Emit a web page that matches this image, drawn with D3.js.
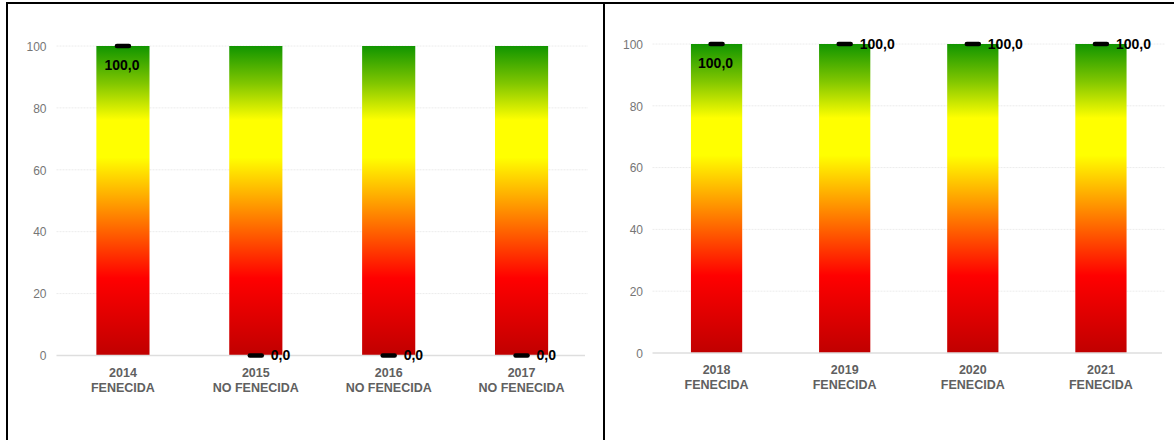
<!DOCTYPE html>
<html>
<head>
<meta charset="utf-8">
<script src="https://cdn.jsdelivr.net/npm/d3@7"></script>
<style>
  html, body { margin: 0; padding: 0; background: #fff; }
  svg { display: block; font-family: "Liberation Sans", Arial, sans-serif; }
</style>
</head>
<body>
<svg id="chart" width="1174" height="440"></svg>
<script>
// Accounts by year: fenecida status and compliance score (0–100)
const leftYears = ["2014", "2015", "2016", "2017"];
const leftStatus = ["FENECIDA", "NO FENECIDA", "NO FENECIDA", "NO FENECIDA"];
const leftValues = [100, 0, 0, 0];

const rightYears = ["2018", "2019", "2020", "2021"];
const rightStatus = ["FENECIDA", "FENECIDA", "FENECIDA", "FENECIDA"];
const rightValues = [100, 100, 100, 100];

const yTicks = [0, 20, 40, 60, 80, 100];
const scaleMax = 100;

const svg = d3.select("#chart");

// Shared vertical colour ramp for the gauge bars (green at the top, dark red at the bottom)
const defs = svg.append("defs");
const grad = defs.append("linearGradient")
  .attr("id", "ramp")
  .attr("x1", 0).attr("y1", 0).attr("x2", 0).attr("y2", 1);
[
  [0.00, "#119500"],
  [0.12, "#80c600"],
  [0.24, "#ffff00"],
  [0.36, "#ffff00"],
  [0.55, "#ff8200"],
  [0.75, "#ff0000"],
  [1.00, "#c00000"]
].forEach(([o, c]) => grad.append("stop").attr("offset", o).attr("stop-color", c));

const fmt = v => d3.format(".1f")(v).replace(".", ",");

function panel(cfg) {
  const { years, status, values, x0, x1, yTop, yBottom, tickRight } = cfg;
  const g = svg.append("g");

  const x = d3.scaleBand().domain(years).range([x0, x1]).padding(0);
  const y = d3.scaleLinear().domain([0, scaleMax]).range([yBottom, yTop]);
  const barW = x.bandwidth() * 0.4;

  // horizontal gridlines
  g.selectAll("line.grid").data(yTicks.filter(t => t > 0)).enter().append("line")
    .attr("class", "grid")
    .attr("x1", x0).attr("x2", x1)
    .attr("y1", d => y(d)).attr("y2", d => y(d))
    .attr("stroke", "#ececec").attr("stroke-width", 1)
    .attr("stroke-dasharray", "2,1");

  // y axis tick labels
  const yAxis = d3.axisLeft(y).tickValues(yTicks).tickSize(0).tickPadding(0);
  const ya = g.append("g").attr("transform", `translate(${tickRight},0)`).call(yAxis);
  ya.select(".domain").remove();
  ya.selectAll("text")
    .attr("fill", "#767676")
    .attr("font-size", 12)
    .attr("font-family", "'Liberation Sans', Arial, sans-serif")
    .attr("dy", "0.35em");

  // gauge bars, full scale
  g.selectAll("rect.bar").data(years).enter().append("rect")
    .attr("class", "bar")
    .attr("x", d => x(d) + (x.bandwidth() - barW) / 2)
    .attr("width", barW)
    .attr("y", y(scaleMax))
    .attr("height", y(0) - y(scaleMax))
    .attr("fill", "url(#ramp)");

  // baseline
  g.append("line")
    .attr("x1", x0).attr("x2", x1 - 3)
    .attr("y1", y(0)).attr("y2", y(0))
    .attr("stroke", "#dedede").attr("stroke-width", 1.5);

  // category labels: year and status on two lines
  const xAxis = d3.axisBottom(x).tickSize(0).tickFormat(() => "");
  const xa = g.append("g").attr("transform", `translate(0,${y(0)})`).call(xAxis);
  xa.select(".domain").remove();
  xa.selectAll(".tick").each(function(d, i) {
    const t = d3.select(this).append("text")
      .attr("text-anchor", "middle")
      .attr("fill", "#606060")
      .attr("font-size", 12.5)
      .attr("font-weight", "bold")
      .attr("font-family", "'Liberation Sans', Arial, sans-serif");
    t.append("tspan").attr("x", 0).attr("y", 21).text(d);
    t.append("tspan").attr("x", 0).attr("y", 36).text(status[i]);
  });

  // value markers
  const cx = d => x(d) + x.bandwidth() / 2;
  g.selectAll("line.marker").data(years).enter().append("line")
    .attr("class", "marker")
    .attr("x1", (d, i) => cx(d) - 6).attr("x2", (d, i) => cx(d) + 6)
    .attr("y1", (d, i) => y(values[i])).attr("y2", (d, i) => y(values[i]))
    .attr("stroke", "#000").attr("stroke-width", 4.5)
    .attr("stroke-linecap", "round");

  // value labels: the first column sits under its marker, the others beside it
  g.selectAll("text.val").data(years).enter().append("text")
    .attr("class", "val")
    .attr("x", (d, i) => i === 0 ? cx(d) - 1 : cx(d) + 15)
    .attr("y", (d, i) => i === 0 ? y(values[i]) + 19 : y(values[i]))
    .attr("dy", "0.35em")
    .attr("text-anchor", (d, i) => i === 0 ? "middle" : "start")
    .attr("font-size", 14)
    .attr("font-weight", "bold")
    .attr("fill", "#000")
    .text((d, i) => fmt(values[i]));
}

panel({ years: leftYears, status: leftStatus, values: leftValues,
        x0: 56.5, x1: 588, yTop: 46, yBottom: 355.5, tickRight: 46.5 });
panel({ years: rightYears, status: rightStatus, values: rightValues,
        x0: 652.5, x1: 1165, yTop: 44, yBottom: 353, tickRight: 643 });

// frame lines
svg.append("line").attr("x1", 6).attr("x2", 1174).attr("y1", 3).attr("y2", 3)
  .attr("stroke", "#000").attr("stroke-width", 2);
svg.append("line").attr("x1", 7).attr("x2", 7).attr("y1", 2).attr("y2", 440)
  .attr("stroke", "#000").attr("stroke-width", 2);
svg.append("line").attr("x1", 604).attr("x2", 604).attr("y1", 2).attr("y2", 440)
  .attr("stroke", "#000").attr("stroke-width", 2);
</script>
</body>
</html>
